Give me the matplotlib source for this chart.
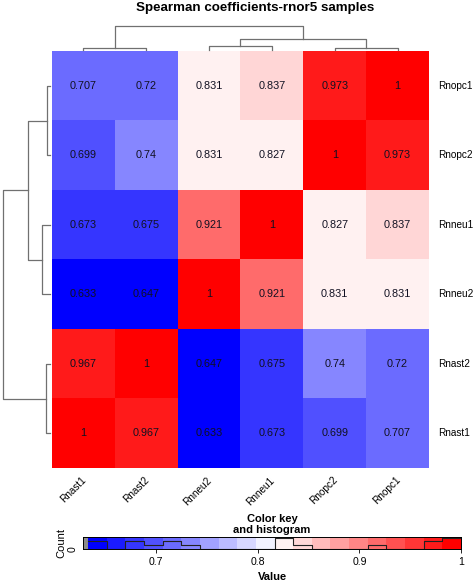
import numpy as np
import matplotlib
matplotlib.use('Agg')
import matplotlib.pyplot as plt
from matplotlib.colors import LinearSegmentedColormap, BoundaryNorm

plt.rcParams['font.family'] = ['Liberation Sans', 'DejaVu Sans']

title = 'Spearman coefficients-rnor5 samples'
col_labels = ['Rnast1', 'Rnast2', 'Rnneu2', 'Rnneu1', 'Rnopc2', 'Rnopc1']
row_labels = ['Rnopc1', 'Rnopc2', 'Rnneu1', 'Rnneu2', 'Rnast2', 'Rnast1']

# rows top to bottom, columns left to right as shown
row_opc1 = [0.707, 0.72, 0.831, 0.837, 0.973, 1]
row_opc2 = [0.699, 0.74, 0.831, 0.827, 1, 0.973]
row_neu1 = [0.673, 0.675, 0.921, 1, 0.827, 0.837]
row_neu2 = [0.633, 0.647, 1, 0.921, 0.831, 0.831]
row_ast2 = [0.967, 1, 0.647, 0.675, 0.74, 0.72]
row_ast1 = [1, 0.967, 0.633, 0.673, 0.699, 0.707]

key_ticks = [0.7, 0.8, 0.9, 1.0]
key_ticklabels = ['0.7', '0.8', '0.9', '1']

mat = np.array([row_opc1, row_opc2, row_neu1, row_neu2, row_ast2, row_ast1])
vmin, vmax = mat.min(), mat.max()
ncol = 20
breaks = np.linspace(vmin, vmax, ncol + 1)
cmap = LinearSegmentedColormap.from_list('bluered', ['blue', 'white', 'red'], N=ncol)
norm = BoundaryNorm(breaks, ncol, clip=True)


def complete_linkage(X):
    # plain complete linkage on euclidean distances, like hclust()
    d = np.sqrt(((X[:, None, :] - X[None, :, :]) ** 2).sum(-1))
    clusters = {i: [i] for i in range(len(X))}
    merges = []
    nid = len(X)
    while len(clusters) > 1:
        keys = list(clusters)
        best = None
        for a in range(len(keys)):
            for b in range(a + 1, len(keys)):
                h = d[np.ix_(clusters[keys[a]], clusters[keys[b]])].max()
                if best is None or h < best[0]:
                    best = (h, keys[a], keys[b])
        h, a, b = best
        merges.append((a, b, h))
        clusters[nid] = clusters.pop(a) + clusters.pop(b)
        nid += 1
    return merges


def draw_dendro(ax, merges, n, vertical=False, color='#707070', lw=0.9):
    pos = {i: float(i) for i in range(n)}
    hgt = {i: 0.0 for i in range(n)}
    nid = n
    for a, b, h in merges:
        xs = [pos[a], pos[a], pos[b], pos[b]]
        ys = [hgt[a], h, h, hgt[b]]
        if vertical:
            ax.plot(ys, xs, color=color, lw=lw, clip_on=False)
        else:
            ax.plot(xs, ys, color=color, lw=lw, clip_on=False)
        pos[nid] = (pos[a] + pos[b]) / 2
        hgt[nid] = h
        nid += 1
    return max(hgt.values())


W, H = 474, 584
fig = plt.figure(figsize=(W / 100, H / 100), dpi=100, facecolor='w')


def px_axes(x0, y0, x1, y1):
    return fig.add_axes([x0 / W, 1 - y1 / H, (x1 - x0) / W, (y1 - y0) / H])


# heatmap
ax = px_axes(52, 51, 429, 468)
ax.imshow(mat, cmap=cmap, norm=norm, aspect='auto', interpolation='nearest')
for i in range(mat.shape[0]):
    for j in range(mat.shape[1]):
        ax.text(j, i, f'{mat[i, j]:g}', ha='center', va='center', fontsize=7.8, color='#111122')
for i, lab in enumerate(row_labels):
    ax.text(5.5 + 0.14, i, lab, ha='left', va='center', fontsize=7.2)
for j, lab in enumerate(col_labels):
    ax.text(j - 0.04, 5.6, lab, ha='right', va='top', rotation=45,
            rotation_mode='anchor', fontsize=7.2)
ax.set_xlim(-0.5, 5.5)
ax.set_ylim(5.5, -0.5)
ax.axis('off')

# column dendrogram
axt = px_axes(52, 26, 429, 50)
hmax = draw_dendro(axt, complete_linkage(mat.T), mat.shape[1])
axt.set_xlim(-0.5, 5.5)
axt.set_ylim(0, hmax)
axt.axis('off')

# row dendrogram
axl = px_axes(3, 51, 50, 468)
hmax = draw_dendro(axl, complete_linkage(mat), mat.shape[0], vertical=True)
axl.set_ylim(5.5, -0.5)
axl.set_xlim(hmax, 0)
axl.axis('off')

fig.text(255 / W, 1 - 8 / H, title, ha='center', va='center', fontsize=9.6, fontweight='bold')

# colour key with histogram
axk = px_axes(83, 537, 461, 549)
axk.set_facecolor('#8c8c8c')
centers = (breaks[:-1] + breaks[1:]) / 2
axk.pcolormesh(breaks, [0, 1], centers[None, :], cmap=cmap, norm=norm)
counts, _ = np.histogram(mat.ravel(), bins=breaks)
hy = np.append(counts, counts[-1])
axk.step(breaks, hy / hy.max() * 0.95, where='post', color='#222222', lw=0.8)
axk.set_xlim(vmin - 0.005, vmax)
axk.set_ylim(0, 1)
axk.set_xticks(key_ticks)
axk.set_xticklabels(key_ticklabels, fontsize=7.6)
axk.set_yticks([0])
axk.set_yticklabels(['0'], fontsize=7.6, rotation=90, va='center')
axk.tick_params(length=3, width=0.6, pad=3)
axk.tick_params(axis='y', length=0, pad=4)
for s in axk.spines.values():
    s.set_linewidth(0.7)
axk.set_xlabel('Value', fontsize=8, fontweight='bold', labelpad=3)
axk.set_ylabel('Count', fontsize=8, labelpad=1)
axk.set_title('Color key\nand histogram', fontsize=8, fontweight='bold', pad=3, linespacing=1.05)

fig.savefig('out.png', dpi=100)
